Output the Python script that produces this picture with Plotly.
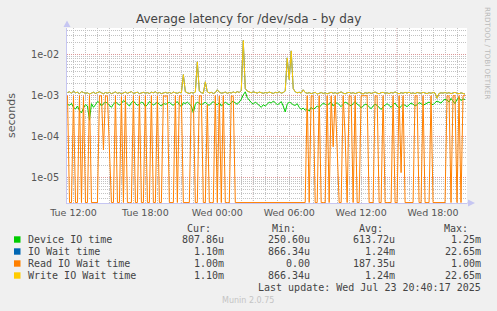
import math
import pandas as pd
import plotly.graph_objects as go

# ---------------- data (microseconds, 10-minute samples) ----------------
start_time = "2025-07-22 11:30"
n_points = 200

device_io_us = [
    620, 580, 650, 520, 470, 560, 430, 380, 500, 610,
    560, 251, 640, 520, 600, 720, 680, 560, 640, 700,
    660, 580, 520, 620, 700, 650, 590, 640, 760, 700,
    620, 560, 680, 740, 650, 580, 620, 700, 660, 540,
    600, 720, 660, 590, 640, 700, 610, 560, 650, 620,
    640, 700, 620, 580, 660, 720, 600, 540, 680, 640,
    700, 620, 560, 380, 620, 700, 660, 600, 640, 700,
    620, 580, 660, 720, 640, 600, 680, 560, 620, 700,
    640, 600, 680, 740, 660, 620, 700, 820, 1050, 1250,
    900, 760, 680, 620, 700, 640, 580, 520, 600, 560,
    620, 700, 660, 740, 680, 600, 640, 720, 560, 400,
    620, 700, 660, 600, 580, 640, 520, 460, 500, 440,
    480, 420, 520, 460, 500, 560, 520, 600, 660, 620,
    580, 640, 700, 560, 620, 680, 600, 540, 620, 700,
    660, 600, 560, 640, 720, 620, 580, 500, 560, 620,
    600, 540, 480, 560, 620, 580, 520, 460, 540, 600,
    640, 580, 520, 600, 660, 560, 500, 540, 620, 580,
    540, 600, 660, 620, 560, 600, 680, 640, 580, 620,
    660, 700, 640, 600, 680, 740, 700, 660, 760, 820,
    780, 700, 860, 760, 640, 820, 900, 760, 840, 808,
]

write_wait_us = [
    1200, 1250, 1150, 1300, 1180, 1220, 1120, 1260, 1200, 1150,
    1180, 1100, 1160, 1220, 1140, 1190, 1250, 1180, 1120, 1200,
    1160, 1210, 1130, 1180, 1240, 1150, 1190, 1120, 1170, 1230,
    1150, 1200, 1260, 1140, 1180, 1220, 1130, 1170, 1210, 1160,
    1190, 1140, 1220, 1180, 1250, 1150, 1200, 1130, 1170, 1210,
    1160, 1200, 1140, 1230, 1180, 1150, 1210, 1170, 3300, 1250,
    1180, 1140, 1200, 1160, 1230, 6800, 1300, 1190, 1150, 2200,
    1250, 1170, 1210, 1140, 1190, 1400, 1220, 1160, 1180, 1230,
    1150, 1200, 1170, 1240, 1180, 1260, 1200, 1350, 22650, 1500,
    1300, 1220, 1180, 1250, 1200, 1160, 1230, 1190, 1150, 1200,
    1170, 1230, 1190, 1140, 1210, 1180, 1250, 1160, 1200, 1300,
    8500, 2500, 12600, 1500, 1250, 1180, 1220, 1160, 1400, 1200,
    1150, 1190, 1130, 1170, 1210, 1100, 1160, 1200, 1140, 1180,
    1120, 1170, 1210, 1150, 1190, 1130, 1180, 1240, 1160, 1120,
    1180, 1210, 1150, 1190, 1130, 1170, 1220, 1160, 1110, 1190,
    1150, 1200, 1140, 1180, 1230, 1160, 1120, 1190, 1210, 1150,
    1180, 1130, 1200, 1160, 1240, 1170, 1120, 1190, 1150, 1210,
    1160, 1220, 1140, 1180, 1130, 1200, 1170, 1150, 1210, 1160,
    1130, 1190, 1150, 1200, 1170, 866, 1140, 1180, 1160, 1200,
    1150, 1190, 1130, 1170, 1210, 1150, 1120, 1180, 1140, 1100,
]

# IO wait time reads identical to write IO wait time (same Cur/Min/Avg/Max)
io_wait_us = list(write_wait_us)

read_wait_us = [
    1000, 0, 0, 980, 0, 0, 1000, 0, 960, 0,
    0, 1000, 0, 0, 0, 0, 990, 1000, 47, 1000,
    970, 27, 0, 0, 1000, 0, 0, 950, 0, 1000,
    0, 0, 0, 1000, 0, 0, 980, 0, 0, 1000,
    0, 0, 1000, 0, 0, 990, 0, 0, 1000, 970,
    1000, 0, 0, 0, 1000, 0, 980, 1000, 0, 0,
    0, 0, 1000, 970, 0, 0, 1000, 990, 0, 0,
    600, 0, 0, 0, 1000, 0, 980, 0, 1000, 0,
    0, 0, 1000, 960, 0, 0, 0, 0, 0, 0,
    0, 0, 0, 0, 0, 0, 0, 0, 0, 0,
    0, 0, 0, 0, 0, 0, 0, 0, 0, 0,
    0, 0, 0, 0, 0, 0, 0, 0, 0, 0,
    1000, 0, 1000, 980, 0, 0, 1000, 0, 0, 0,
    1000, 0, 990, 56, 1000, 36, 0, 0, 1000, 100,
    0, 1000, 970, 0, 1000, 0, 0, 1000, 990, 1000,
    1000, 0, 0, 0, 1000, 980, 0, 0, 1000, 0,
    0, 0, 0, 1000, 0, 0, 1000, 13, 1000, 0,
    0, 0, 0, 0, 1000, 990, 0, 0, 1000, 0,
    0, 0, 1000, 0, 0, 0, 0, 0, 0, 0,
    1000, 980, 0, 1000, 1000, 0, 1000, 0, 1000, 1000,
]

series_names = ["Device IO time", "IO Wait time", "Read IO Wait time", "Write IO Wait time"]
series_colors = ["#00CC00", "#0066B3", "#FF8000", "#FFCC00"]
stat_cur = ["807.86u", "1.10m", "1.00m", "1.10m"]
stat_min = ["250.60u", "866.34u", "0.00", "866.34u"]
stat_avg = ["613.72u", "1.24m", "187.35u", "1.24m"]
stat_max = ["1.25m", "22.65m", "1.00m", "22.65m"]

x_tick_vals = ["2025-07-22 12:00", "2025-07-22 18:00", "2025-07-23 00:00",
               "2025-07-23 06:00", "2025-07-23 12:00", "2025-07-23 18:00"]
x_tick_text = ["Tue 12:00", "Tue 18:00", "Wed 00:00", "Wed 06:00", "Wed 12:00", "Wed 18:00"]
x_major_grid = ["2025-07-22 15:00", "2025-07-22 21:00", "2025-07-23 03:00",
                "2025-07-23 09:00", "2025-07-23 15:00"]
y_tick_vals = [1e-5, 1e-4, 1e-3, 1e-2]
y_tick_text = ["1e-05", "1e-04", "1e-03", "1e-02"]

# ---------------- geometry ----------------
W, H = 497, 311
L, R, T, B = 67, 467, 28, 203
ZERO_FLOOR = 2.4e-6   # where rrdtool puts 0 on a log axis (bottom edge)
Y_MIN, Y_MAX = 2.34e-6, 0.0459


def px(x):
    return (x - L) / (R - L)


def py(y):
    return (B - y) / (B - T)


def to_seconds(vals):
    return [v * 1e-6 if v > 0 else ZERO_FLOOR for v in vals]


times = pd.date_range(start_time, periods=n_points, freq="10min")

fig = go.Figure()
for name, color, vals in zip(series_names, series_colors,
                             [device_io_us, io_wait_us, read_wait_us, write_wait_us]):
    fig.add_trace(go.Scatter(x=times, y=to_seconds(vals), mode="lines", name=name,
                             line=dict(color=color, width=1), hoverinfo="skip"))

GRID_MINOR = "#c2c2c2"
GRID_MAJOR = "#dc9898"
AXIS_COL = "#c6c6f2"
DOT = "1px,1px"

minor_y = [m * 10 ** e for e in range(-6, -1) for m in range(2, 10)]

fig.update_layout(
    width=W, height=H,
    margin=dict(l=L, r=W - R, t=T, b=H - B, pad=0),
    paper_bgcolor="#F0F0F0", plot_bgcolor="#FFFFFF",
    showlegend=False,
    xaxis=dict(type="date", range=["2025-07-22 11:27:30", "2025-07-23 20:50:00"],
               tickvals=x_tick_vals, ticktext=x_tick_text, showgrid=False,
               minor=dict(dtick=3600000, showgrid=True, gridcolor=GRID_MINOR,
                          griddash=DOT, gridwidth=1),
               showline=True, linecolor=AXIS_COL, linewidth=1, ticks="",
               zeroline=False, ticklabelstandoff=1,
               tickfont=dict(family="DejaVu Sans", size=9.5, color="#555555")),
    yaxis=dict(type="log", range=[math.log10(Y_MIN), math.log10(Y_MAX)],
               tickvals=y_tick_vals, ticktext=y_tick_text,
               showgrid=True, gridcolor=GRID_MAJOR, griddash=DOT, gridwidth=1,
               minor=dict(tickvals=minor_y, showgrid=True, gridcolor=GRID_MINOR,
                          griddash=DOT, gridwidth=1, ticks=""),
               showline=True, linecolor=AXIS_COL, linewidth=1, ticks="",
               zeroline=False, ticklabelstandoff=5,
               tickfont=dict(family="DejaVu Sans", size=9.7, color="#555555")),
)

shapes = []
for t in x_major_grid:
    shapes.append(dict(type="line", xref="x", yref="paper", x0=t, x1=t, y0=0, y1=1,
                       layer="between", line=dict(color=GRID_MAJOR, width=1, dash=DOT)))
# axis arrows
shapes.append(dict(type="path", xref="paper", yref="paper",
                   path=f"M {px(63.5)} {py(27)} L {px(70.5)} {py(27)} L {px(67)} {py(20.5)} Z",
                   fillcolor=AXIS_COL, line=dict(width=0)))
shapes.append(dict(type="path", xref="paper", yref="paper",
                   path=f"M {px(468)} {py(199.5)} L {px(468)} {py(206.5)} L {px(475)} {py(203)} Z",
                   fillcolor=AXIS_COL, line=dict(width=0)))
shapes.append(dict(type="line", xref="paper", yref="paper", x0=1, x1=px(469), y0=0, y1=0,
                   line=dict(color=AXIS_COL, width=1)))

annotations = []


def text(x, y, s, size=10, color="#444444", family="DejaVu Sans Mono", xanchor="left",
         angle=0):
    annotations.append(dict(x=px(x), y=py(y), xref="paper", yref="paper", text=s,
                            showarrow=False, xanchor=xanchor, yanchor="middle",
                            textangle=angle, font=dict(family=family, size=size, color=color)))


text(248, 18.5, "Average latency for /dev/sda - by day", size=12, color="#444444",
     family="DejaVu Sans", xanchor="center")
text(11, 115, "seconds", size=11, color="#555555", family="DejaVu Sans", xanchor="center",
     angle=-90)
text(488, 53, "RRDTOOL / TOBI OETIKER", size=7.2, color="#bbbbbb", family="DejaVu Sans",
     xanchor="center", angle=90)

col_right = [226, 312, 397, 483]
header_right = [213, 298, 385, 470]
for lab, xr in zip(["Cur:", "Min:", "Avg:", "Max:"], header_right):
    text(xr, 228, lab, xanchor="right")

row_y = [239.5, 251.5, 263.5, 275.5]
for i, name in enumerate(series_names):
    yy = row_y[i]
    shapes.append(dict(type="rect", xref="paper", yref="paper",
                       x0=px(14), x1=px(20.5), y0=py(yy + 3.2), y1=py(yy - 3.2),
                       fillcolor=series_colors[i], line=dict(width=0)))
    text(26, yy, name)
    for vals, xr in zip([stat_cur, stat_min, stat_avg, stat_max], col_right):
        text(xr, yy, vals[i], xanchor="right")

text(483, 287.5, "Last update: Wed Jul 23 20:40:17 2025", xanchor="right")
text(248, 300.5, "Munin 2.0.75", size=8, color="#c4c4c4", family="DejaVu Sans",
     xanchor="center")

fig.update_layout(shapes=shapes, annotations=annotations)
fig.write_html("out.html")
